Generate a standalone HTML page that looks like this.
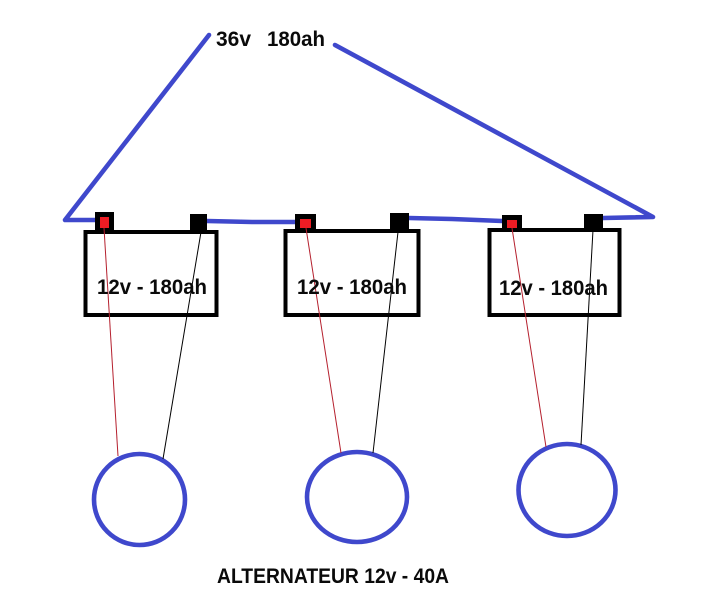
<!DOCTYPE html>
<html><head><meta charset="utf-8"><style>html,body{margin:0;padding:0;background:#fff}svg{display:block}text{font-family:"Liberation Sans",sans-serif;font-weight:bold;font-size:21px;fill:#0a0a0a}</style></head>
<body><svg width="714" height="608" viewBox="0 0 714 608" xmlns="http://www.w3.org/2000/svg">
<rect width="714" height="608" fill="#fff"/>
<g fill="none" stroke="#3f48cc" stroke-width="4.6" stroke-linecap="round" stroke-linejoin="round">
<polyline points="209,35 65,220 96,220"/>
<polyline points="207,221 252,222 296,222"/>
<polyline points="409,218 452,219 502,221"/>
<polyline points="335,45 653,217 603,218"/>
<ellipse cx="139.5" cy="499.5" rx="45.5" ry="45.5"/>
<ellipse cx="357" cy="497" rx="50" ry="45"/>
<ellipse cx="567" cy="490" rx="48.5" ry="46"/>
</g>
<g fill="none" stroke="#000" stroke-width="4">
<rect x="85.5" y="232" width="131" height="83"/>
<rect x="285.5" y="231" width="133" height="84"/>
<rect x="489.5" y="230" width="130" height="85"/>
</g>
<g fill="#000">
<rect x="95" y="212" width="19" height="19"/><rect x="190" y="214" width="17" height="18"/>
<rect x="295" y="214" width="21" height="16"/><rect x="390" y="213" width="19" height="19"/>
<rect x="502" y="215" width="20" height="14"/><rect x="584" y="214" width="19" height="16"/>
</g>
<g fill="#ed1c24">
<rect x="100" y="217" width="9" height="11"/><rect x="300" y="219" width="11" height="9"/><rect x="507" y="220" width="10" height="8"/>
</g>
<g fill="none" stroke="#b5202e" stroke-width="1">
<line x1="104" y1="228" x2="118" y2="456"/>
<line x1="306" y1="228" x2="341" y2="453"/>
<line x1="512" y1="228" x2="546" y2="447"/>
</g>
<g fill="none" stroke="#000" stroke-width="1">
<line x1="201" y1="232" x2="163" y2="459"/>
<line x1="398" y1="232" x2="373" y2="453"/>
<line x1="593" y1="230" x2="581" y2="445"/>
</g>
<text x="97" y="294" textLength="110" lengthAdjust="spacingAndGlyphs">12v - 180ah</text>
<text x="297" y="294" textLength="110" lengthAdjust="spacingAndGlyphs">12v - 180ah</text>
<text x="499" y="295" textLength="109" lengthAdjust="spacingAndGlyphs">12v - 180ah</text>
<text x="216" y="46" textLength="35" lengthAdjust="spacingAndGlyphs">36v</text>
<text x="267" y="46" textLength="58" lengthAdjust="spacingAndGlyphs">180ah</text>
<text x="217" y="583" textLength="232" lengthAdjust="spacingAndGlyphs">ALTERNATEUR 12v - 40A</text>
</svg></body></html>
